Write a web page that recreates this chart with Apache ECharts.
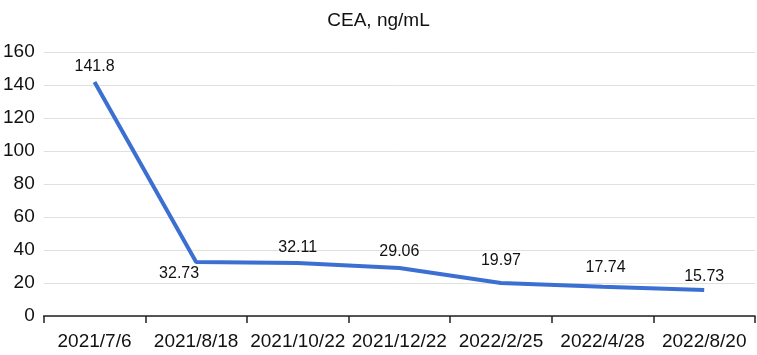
<!DOCTYPE html>
<html>
<head>
<meta charset="utf-8">
<script src="https://cdn.jsdelivr.net/npm/echarts@6/dist/echarts.min.js"></script>
<style>
  html, body { margin: 0; padding: 0; background: #fff; }
  #chart { width: 757px; height: 355px; }
</style>
</head>
<body>
<div id="chart"></div>
<script>
// 数据
var dates = ['2021/7/6', '2021/8/18', '2021/10/22', '2021/12/22', '2022/2/25', '2022/4/28', '2022/8/20'];
var cea = [141.8, 32.73, 32.11, 29.06, 19.97, 17.74, 15.73];
var yTicks = [0, 20, 40, 60, 80, 100, 120, 140, 160];

var myChart = echarts.init(document.getElementById('chart'));

// 标签的微调，和原图对齐
var labelOffsets = [[0, 0], [-17, -3], [0, 0], [0, -1], [0, -7], [3, -4], [0, 2]];

var points = cea.map(function (v, i) {
    var item = { value: v, label: { offset: labelOffsets[i] } };
    if (i === 1) {
        // 这个标签在线的左下方
        item.label.position = 'bottom';
    }
    return item;
});

var option = {
    backgroundColor: '#fff',
    textStyle: { fontFamily: 'Liberation Sans, Arial, sans-serif' },
    title: {
        text: 'CEA, ng/mL',
        left: 'center',
        top: 6,
        textStyle: { fontSize: 19, fontWeight: 'normal', color: '#111' }
    },
    grid: { left: 42, right: 2, top: 52, bottom: 39 },
    xAxis: {
        type: 'category',
        data: dates,
        boundaryGap: true,
        axisLine: { lineStyle: { color: '#222', width: 1.5 } },
        axisTick: { show: true, length: 7, lineStyle: { color: '#222', width: 1.5 } },
        axisLabel: { color: '#111', fontSize: 19, margin: 16, interval: 0 }
    },
    yAxis: {
        type: 'value',
        min: yTicks[0],
        max: yTicks[yTicks.length - 1],
        interval: 20,
        axisLine: { show: false },
        axisTick: { show: false },
        axisLabel: { color: '#111', fontSize: 19, margin: 9 },
        splitLine: { lineStyle: { color: '#e0e0e0', width: 1 } }
    },
    series: [{
        name: 'CEA',
        type: 'line',
        data: points,
        symbol: 'circle',
        symbolSize: 2,
        showSymbol: true,
        showAllSymbol: true,
        itemStyle: { color: 'rgba(0,0,0,0)', borderWidth: 0 },
        lineStyle: { color: '#3b70d2', width: 4 },
        label: {
            show: true,
            position: 'top',
            distance: 6,
            color: '#111',
            fontSize: 16
        }
    }]
};

myChart.setOption(option);
</script>
</body>
</html>
